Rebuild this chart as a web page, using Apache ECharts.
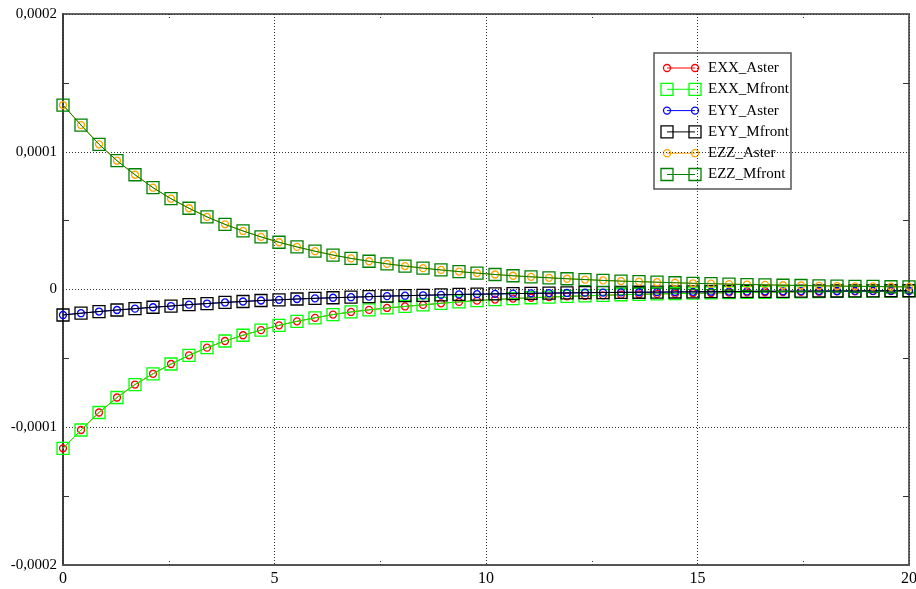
<!DOCTYPE html>
<html><head><meta charset="utf-8">
<script src="https://cdn.jsdelivr.net/npm/echarts@6/dist/echarts.min.js"></script>
<style>html,body{margin:0;padding:0;background:#fff}#c{width:916px;height:589px}</style>
</head><body><div id="c"></div>
<script>
// x positions of the samples
const xValues = [0, 0.4255, 0.8511, 1.2766, 1.7021, 2.1277, 2.5532, 2.9787, 3.4043, 3.8298,
  4.2553, 4.6809, 5.1064, 5.5319, 5.9574, 6.3830, 6.8085, 7.2340, 7.6596, 8.0851,
  8.5106, 8.9362, 9.3617, 9.7872, 10.2128, 10.6383, 11.0638, 11.4894, 11.9149, 12.3404,
  12.7660, 13.1915, 13.6170, 14.0426, 14.4681, 14.8936, 15.3191, 15.7447, 16.1702, 16.5957,
  17.0213, 17.4468, 17.8723, 18.2979, 18.7234, 19.1489, 19.5745, 20];
// strain values, in units of 1e-4
const exxValues = [-1.153, -1.020, -0.893, -0.784, -0.690, -0.612, -0.541, -0.478, -0.422, -0.374,
  -0.332, -0.295, -0.260, -0.231, -0.206, -0.182, -0.163, -0.148, -0.134, -0.123,
  -0.112, -0.100, -0.090, -0.081, -0.073, -0.066, -0.060, -0.055, -0.050, -0.046,
  -0.042, -0.038, -0.035, -0.032, -0.030, -0.027, -0.025, -0.023, -0.021, -0.020,
  -0.018, -0.017, -0.016, -0.014, -0.013, -0.012, -0.011, -0.010];
const eyyValues = [-0.185, -0.172, -0.160, -0.149, -0.139, -0.129, -0.120, -0.110, -0.102, -0.094,
  -0.087, -0.080, -0.075, -0.069, -0.064, -0.060, -0.056, -0.052, -0.048, -0.045,
  -0.042, -0.039, -0.036, -0.034, -0.032, -0.030, -0.028, -0.026, -0.025, -0.023,
  -0.022, -0.021, -0.020, -0.019, -0.018, -0.017, -0.016, -0.015, -0.014, -0.013,
  -0.013, -0.012, -0.011, -0.011, -0.010, -0.010, -0.009, -0.009];
const ezzValues = [1.339, 1.194, 1.054, 0.935, 0.833, 0.739, 0.659, 0.590, 0.527, 0.473,
  0.425, 0.382, 0.343, 0.309, 0.278, 0.250, 0.226, 0.205, 0.186, 0.170,
  0.155, 0.142, 0.130, 0.119, 0.109, 0.100, 0.092, 0.085, 0.078, 0.072,
  0.066, 0.061, 0.057, 0.053, 0.049, 0.045, 0.042, 0.039, 0.036, 0.034,
  0.031, 0.029, 0.027, 0.025, 0.023, 0.022, 0.020, 0.019];
const seriesNames = ['EXX_Aster', 'EXX_Mfront', 'EYY_Aster', 'EYY_Mfront', 'EZZ_Aster', 'EZZ_Mfront'];
const xTicks = [0, 5, 10, 15, 20];
const yTickLabels = {'-2': '-0,0002', '-1': '-0,0001', '0': '0', '1': '0,0001', '2': '0,0002'};

const FONT = '"Liberation Serif", "DejaVu Serif", serif';
const styles = [
  {color: '#ff0000', line: '#ff0000', symbol: 'circle', size: 7},
  {color: '#00ff00', line: '#00ff00', symbol: 'rect', size: 12},
  {color: '#0000ff', line: '#0000ff', symbol: 'circle', size: 7},
  {color: '#000000', line: '#000000', symbol: 'rect', size: 12},
  {color: '#ffa500', line: '#ffa500', symbol: 'circle', size: 7},
  {color: '#008000', line: '#008000', symbol: 'rect', size: 12}
];
const valueSets = [exxValues, exxValues, eyyValues, eyyValues, ezzValues, ezzValues];

const series = seriesNames.map((name, k) => ({
  name: name, type: 'line',
  xAxisIndex: 0, yAxisIndex: 0,
  data: xValues.map((x, i) => [x, valueSets[k][i]]),
  symbol: styles[k].symbol, symbolSize: styles[k].size,
  showAllSymbol: true,
  lineStyle: {color: styles[k].line, width: 1},
  itemStyle: {color: 'rgba(0,0,0,0)', borderColor: styles[k].color, borderWidth: 1.3},
  emphasis: {disabled: true},
  z: 2 + k
}));

// legend drawn as graphic
const lg = {x: 654, y: 53, w: 137, h: 136, row0: 68, dy: 21.3, lx0: 667, lx1: 695, tx: 708};
const legendEls = [{type: 'rect', shape: {x: lg.x, y: lg.y, width: lg.w, height: lg.h},
  style: {fill: '#fff', stroke: '#555', lineWidth: 1.5}}];
seriesNames.forEach((name, k) => {
  const cy = lg.row0 + k * lg.dy;
  const st = styles[k];
  legendEls.push({type: 'line', shape: {x1: lg.lx0, y1: cy, x2: lg.lx1, y2: cy},
    style: {stroke: st.line, lineWidth: 1}});
  [lg.lx0, lg.lx1].forEach(cx => {
    if (st.symbol === 'circle') {
      legendEls.push({type: 'circle', shape: {cx: cx, cy: cy, r: 3.5},
        style: {fill: 'none', stroke: st.color, lineWidth: 1.3}});
    } else {
      legendEls.push({type: 'rect', shape: {x: cx - 6, y: cy - 6, width: 12, height: 12},
        style: {fill: 'none', stroke: st.color, lineWidth: 1.3}});
    }
  });
  legendEls.push({type: 'text', x: lg.tx, y: cy,
    style: {text: name, fill: '#000', font: '15px ' + FONT, verticalAlign: 'middle', textAlign: 'left'}});
});

const GRID = {left: 63, right: 7, top: 14, bottom: 24};
const plotW = 916 - GRID.left - GRID.right;
const plotH = 589 - GRID.top - GRID.bottom;

const xMinor = {show: true, splitNumber: 2, length: 4, lineStyle: {color: '#333', type: [1, 2], width: 1}};
const yMinor = {show: true, splitNumber: 2, length: 6, lineStyle: {color: '#333', width: 1}};
const bareX = (pos, off) => ({type: 'value', min: 0, max: 20, interval: 5, position: pos, offset: off,
  axisLine: {show: false, onZero: false}, axisTick: {show: false}, axisLabel: {show: false},
  minorTick: xMinor, splitLine: {show: false}});
const bareY = (pos, off) => ({type: 'value', min: -2, max: 2, interval: 1, position: pos, offset: off,
  axisLine: {show: false, onZero: false}, axisTick: {show: false}, axisLabel: {show: false},
  minorTick: yMinor, splitLine: {show: false}});

const chart = echarts.init(document.getElementById('c'), null, {renderer: 'canvas'});
chart.setOption({
  animation: false,
  backgroundColor: '#fff',
  grid: Object.assign({outerBoundsMode: 'none', containLabel: false,
    show: true, borderColor: '#666', borderWidth: 2}, GRID),
  xAxis: [{
    type: 'value', min: 0, max: 20, interval: 5, position: 'bottom',
    axisLine: {show: true, onZero: false, lineStyle: {color: '#555', width: 2}},
    axisTick: {show: false},
    minorTick: {show: false},
    axisLabel: {color: '#000', fontFamily: FONT, fontSize: 16, margin: 6,
      formatter: v => xTicks.includes(v) ? String(v) : ''},
    splitLine: {show: true, lineStyle: {color: '#333', type: [1, 2], width: 1}}
  }, bareX('top', -plotH), bareX('bottom', -plotH)],
  yAxis: [{
    type: 'value', min: -2, max: 2, interval: 1, position: 'left',
    axisLine: {show: true, onZero: false, lineStyle: {color: '#333', width: 1.5}},
    axisTick: {show: false},
    minorTick: {show: false},
    axisLabel: {color: '#000', fontFamily: FONT, fontSize: 15, margin: 6,
      formatter: v => yTickLabels[String(v)] || ''},
    splitLine: {show: true, lineStyle: {color: '#333', type: [1, 2], width: 1}}
  }, bareY('right', -plotW), bareY('left', -plotW)],
  series: series,
  graphic: legendEls
});
</script>
</body></html>
